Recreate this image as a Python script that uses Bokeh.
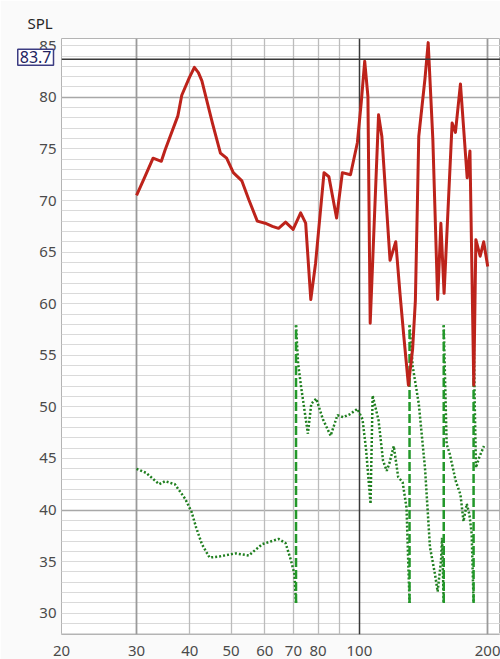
from bokeh.plotting import figure
from bokeh.models import Range1d, FixedTicker, Grid, Span, Label, Title, NumeralTickFormatter
from bokeh.embed import file_html
from bokeh.resources import INLINE

# ---------------- data ----------------
red_freq = [30, 31.3, 32.8, 34.3, 35.0, 37.5, 38.3, 39.9, 41.0, 41.9, 42.7, 45.2, 47.2, 48.8,
            50.6, 53.0, 55.0, 57.6, 60.1, 62.5, 64.6, 67.1, 69.9, 72.8, 74.8, 76.9, 78.9, 82.6,
            84.8, 88.4, 91.2, 95.3, 98.9, 101.0, 102.9, 104.7, 106.0, 110.9, 112.9, 118.0,
            121.7, 124.5, 127.0, 130.3, 133.3, 135.3, 137.8, 142.5, 145.0, 148.7, 152.6, 155.3,
            158.0, 165.0, 168.0, 172.6, 179.0, 181.7, 185.5, 187.6, 192.0, 195.7, 200.0]
red_spl = [70.5, 72.2, 74.1, 73.8, 74.9, 78.2, 80.2, 81.9, 82.9, 82.4, 81.6, 77.5, 74.6, 74.1,
           72.7, 71.9, 70.1, 68.0, 67.8, 67.5, 67.3, 67.9, 67.2, 68.8, 67.8, 60.4, 63.9, 72.7,
           72.3, 68.3, 72.7, 72.5, 75.6, 79.5, 83.5, 80.1, 58.1, 78.3, 76.2, 64.2,
           66.0, 61.0, 57.0, 52.1, 55.6, 60.3, 76.2, 81.8, 85.3, 75.9, 60.4, 67.8,
           61.0, 77.5, 76.6, 81.3, 72.2, 74.8, 52.1, 66.2, 64.6, 66.0, 63.6]

green_f1 = [30, 31.6, 33.9, 35.0, 36.9, 39.0, 40.4, 41.4, 42.7, 44.5, 46.9, 51.2, 55.0, 59.2,
            64.6, 67.1, 69.0, 70.4, 71.0]
green_v1 = [44.0, 43.6, 42.5, 42.8, 42.5, 41.1, 39.8, 38.3, 36.7, 35.4, 35.5, 35.8, 35.6, 36.7,
            37.2, 36.8, 35.2, 33.8, 31.0]
green_f2 = [71.0, 71.8, 73.0, 75.7, 77.1, 79.2, 82.1, 85.6, 88.8, 91.6, 95.1, 98.9, 101.7, 103.7,
            106.2, 107.4, 110.9, 113.6, 115.9, 117.5, 120.4, 123.3, 126.3, 129.0, 131.1]
green_v2 = [57.9, 54.2, 51.9, 47.4, 50.3, 50.8, 48.8, 47.2, 49.2, 49.0, 49.3, 49.8, 48.8, 45.8,
            40.6, 51.1, 48.7, 44.8, 43.8, 44.5, 46.2, 43.2, 42.7, 40.2, 31.0]
green_f3 = [131.1, 133.4, 137.8, 142.5, 146.4, 150.4, 152.6, 155.4, 156.3, 157.7]
green_v3 = [57.9, 53.9, 50.3, 44.1, 36.4, 33.8, 32.1, 35.1, 37.3, 31.0]
green_f4 = [157.7, 160.2, 163.0, 168.3, 172.6, 175.5, 178.6, 181.1, 183.4, 185.3]
green_v4 = [57.9, 46.4, 45.4, 42.8, 41.5, 38.9, 40.6, 39.6, 37.7, 31.0]
green_f5 = [185.3, 186.5, 187.7, 191.0, 196.0]
green_v5 = [57.9, 50.0, 44.1, 45.1, 46.2]

wrap_freq = [71.0, 131.1, 157.7, 185.3]
wrap_low = 31.0
wrap_high = 57.9

x_ticks = [20, 30, 40, 50, 60, 70, 80, 100, 200]
y_ticks = [30, 35, 40, 45, 50, 55, 60, 65, 70, 75, 80, 85]
cursor_value = 83.7
y_label = "SPL"

FONT = "Noto Sans"

p = figure(width=500, height=659, x_axis_type="log",
           x_range=Range1d(20, 214.3), y_range=Range1d(27.94, 85.7),
           output_backend="svg", toolbar_location=None,
           min_border_left=58, min_border_top=38, min_border_right=0, min_border_bottom=25)
p.background_fill_color = "white"
p.border_fill_color = "#fafafa"
p.outline_line_color = "#b4b4b4"
p.xgrid.visible = False
p.ygrid.visible = False


def add_grid(dim, ticks, color, width=1.0):
    g = Grid(dimension=dim, ticker=FixedTicker(ticks=ticks),
             grid_line_color=color, grid_line_width=width)
    p.add_layout(g, "center")


add_grid(1, list(range(28, 86)), "#dadada", 1)
add_grid(1, [40, 80], "#a8a8a8", 1.5)
add_grid(0, [40, 50, 60, 70, 80, 90], "#bcbcbc", 1.3)
add_grid(0, [30, 200], "#9a9a9a", 1.8)
add_grid(0, [100], "#3a3a3a", 1.5)

# axes
xa = p.xaxis[0]
xa.ticker = FixedTicker(ticks=x_ticks)
xa.formatter = NumeralTickFormatter(format="0")
ya = p.yaxis[0]
ya.ticker = FixedTicker(ticks=y_ticks)
for ax in (xa, ya):
    ax.axis_line_color = None
    ax.major_tick_line_color = None
    ax.minor_tick_line_color = None
    ax.major_tick_out = 0
    ax.major_tick_in = 0
    ax.major_label_text_font = FONT
    ax.major_label_text_font_size = "15px"
    ax.major_label_text_color = "#4a4a4a"
xa.major_label_standoff = 11
ya.major_label_standoff = 5

# green series
p.multi_line(xs=[green_f1, green_f2, green_f3, green_f4, green_f5],
             ys=[green_v1, green_v2, green_v3, green_v4, green_v5],
             line_color="#1f7f1f", line_width=2.5, line_dash="2 2")
p.segment(x0=wrap_freq, y0=[wrap_low] * len(wrap_freq),
          x1=wrap_freq, y1=[wrap_high] * len(wrap_freq),
          line_color="#23982a", line_width=2.5, line_dash="9 3")

# red series
p.line(red_freq, red_spl, line_color="#bd231b", line_width=3, line_join="round")

# cursor
p.add_layout(Span(location=cursor_value, dimension="width", line_color="#3a3a3a", line_width=1.5))
cursor_box = Label(x=20, y=cursor_value, x_offset=-8, y_offset=2, text=f"{cursor_value}",
                   text_align="right", text_baseline="middle",
                   text_font=FONT, text_font_size="16px", text_color="#23235e",
                   border_line_color="#3c3c82", border_line_width=1.5,
                   background_fill_color="white", padding=2)
p.add_layout(cursor_box, "left")

p.add_layout(Title(text=y_label, align="left", offset=-34, standoff=11,
                   text_font=FONT, text_font_size="15px", text_font_style="normal",
                   text_color="#262626"), "above")

open("out.html", "w").write(file_html(p, INLINE))
